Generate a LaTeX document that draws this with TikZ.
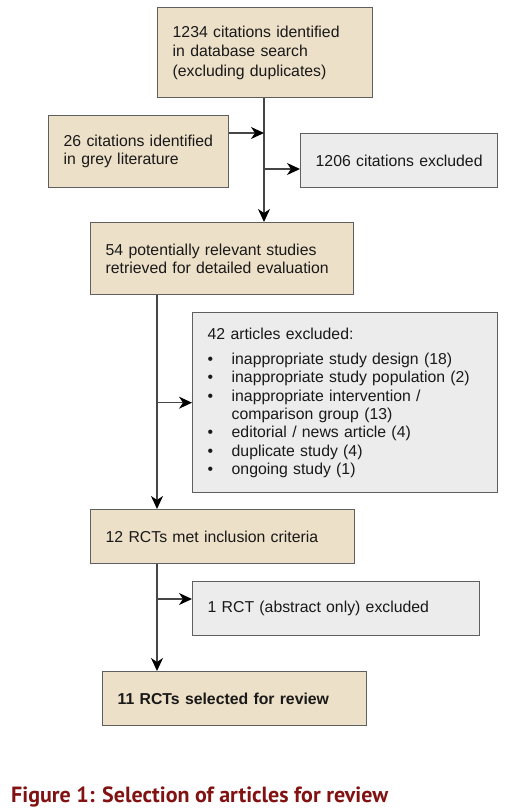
\documentclass[tikz,border=0pt]{standalone}
\usepackage{fontspec}
\setmainfont{Liberation Sans}
\newfontfamily\captfont{PT Sans}
\usetikzlibrary{arrows.meta,calc}
\definecolor{beige}{RGB}{237,224,200}
\definecolor{lightgrey}{RGB}{236,236,236}
\definecolor{bordergrey}{RGB}{95,95,95}
\definecolor{linegrey}{RGB}{70,70,70}
\definecolor{textcol}{RGB}{25,25,25}
\definecolor{captred}{RGB}{130,18,18}
\begin{document}
\begin{tikzpicture}[x=1pt,y=-1pt,
  box/.style={draw=bordergrey, line width=1.4pt, anchor=north west, inner xsep=15pt, inner ysep=0pt,
    align=left, font=\fontsize{15.8}{18}\selectfont, text=textcol},
  inc/.style={box, fill=beige},
  exc/.style={box, fill=lightgrey},
  conn/.style={draw=linegrey, line width=1.3pt, -{Stealth[length=13pt,width=12pt,inset=4pt,black]}},
  plain/.style={draw=linegrey, line width=1.3pt}
]
\useasboundingbox (0,0) rectangle (506,811);
\node[inc, text width=185pt, minimum height=90pt, font=\fontsize{15.8}{19.5}\selectfont] (b1) at (157,7)
  {1234 citations identified\\in database search\\(excluding duplicates)};
\node[inc, text width=150pt, minimum height=72pt] (b2) at (48,115)
  {26 citations identified\\in grey literature};
\node[exc, text width=167pt, minimum height=54pt] (b3) at (300,133)
  {1206 citations excluded};
\node[inc, text width=233pt, minimum height=72pt] (b4) at (90,222)
  {54 potentially relevant studies\\retrieved for detailed evaluation};
\node[exc, text width=275pt, minimum height=180pt, font=\fontsize{15.8}{18.3}\selectfont] (b5) at (192,312)
  {42 articles excluded:\\[7pt]
   \makebox[24pt][l]{\textbullet}inappropriate study design (18)\\
   \makebox[24pt][l]{\textbullet}inappropriate study population (2)\\
   \makebox[24pt][l]{\textbullet}inappropriate intervention /\\
   \hspace*{24pt}comparison group (13)\\
   \makebox[24pt][l]{\textbullet}editorial / news article (4)\\
   \makebox[24pt][l]{\textbullet}duplicate study (4)\\
   \makebox[24pt][l]{\textbullet}ongoing study (1)};
\node[inc, text width=234pt, minimum height=54pt] (b6) at (90,509)
  {12 RCTs met inclusion criteria};
\node[exc, text width=257pt, minimum height=54pt] (b7) at (192,581)
  {1 RCT (abstract only) excluded};
\node[inc, text width=234pt, minimum height=54pt, font=\fontsize{15.8}{18}\selectfont\bfseries] (b8) at (102,671)
  {11 RCTs selected for review};
\node[anchor=base west, inner sep=0pt, text=captred] (cap) at (11,802)
  {\resizebox{377pt}{!}{\captfont\bfseries Figure 1: Selection of articles for review}};

\coordinate (j1) at (264,133);
\coordinate (j2) at (264,169);
\coordinate (s2) at (157,0);
\coordinate (j3) at (157,599);

\draw[conn] (j1 |- b1.south) -- (j1 |- b4.north);
\draw[conn] (j1 -| b2.east) -- (j1);
\draw[conn] (j2) -- (j2 -| b3.west);
\draw[conn] (s2 |- b4.south) -- (s2 |- b6.north);
\draw[conn] (s2 |- b5.west) -- (b5.west);
\draw[conn] (s2 |- b6.south) -- (s2 |- b8.north);
\draw[conn] (j3) -- (j3 -| b7.west);
\end{tikzpicture}
\end{document}
